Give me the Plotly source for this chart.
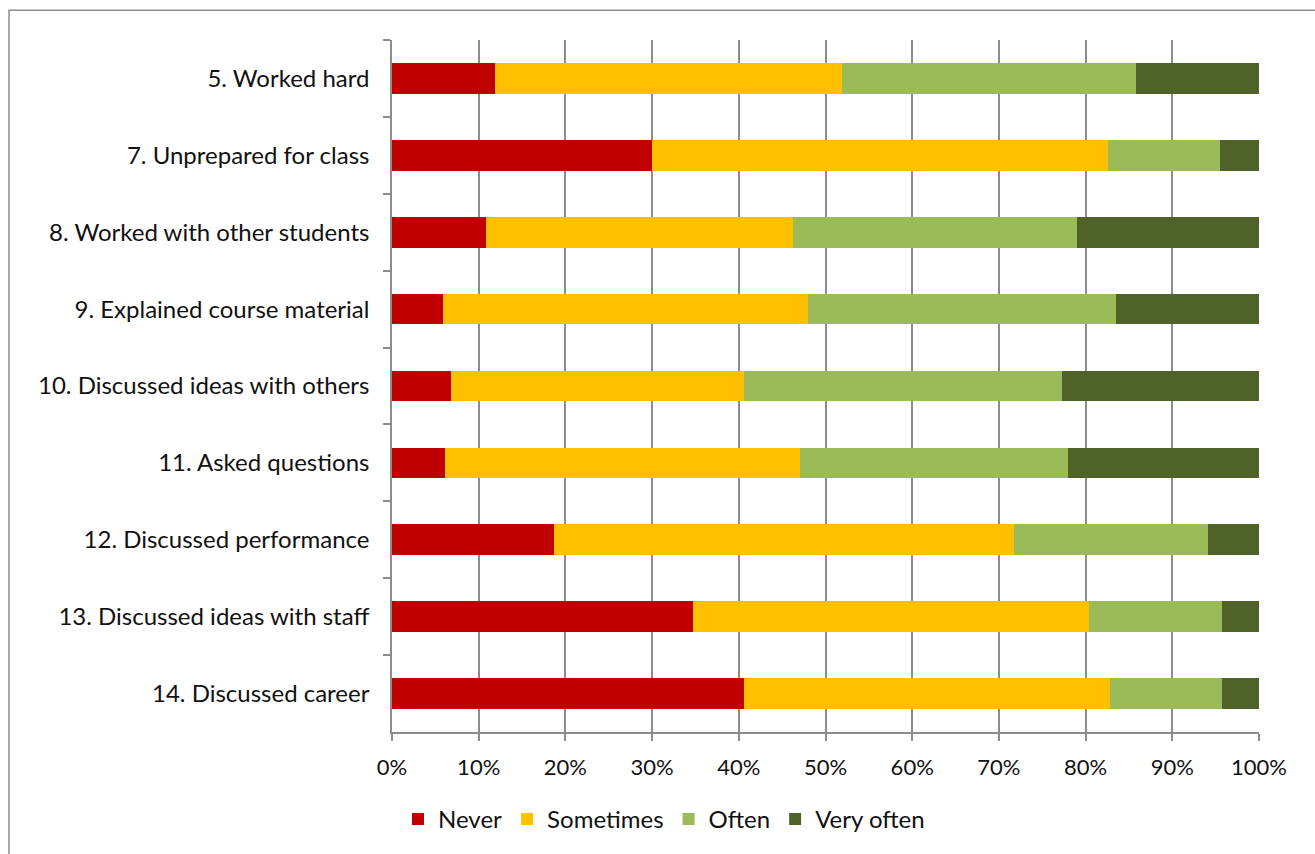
import plotly.graph_objects as go

# Survey items (top to bottom) and response shares in percent
items = [
    "5. Worked hard",
    "7. Unprepared for class",
    "8. Worked with other students",
    "9. Explained course material",
    "10. Discussed ideas with others",
    "11. Asked questions",
    "12. Discussed performance",
    "13. Discussed ideas with staff",
    "14. Discussed career",
]
never      = [11.9, 30.0, 10.8,  5.9,  6.8,  6.1, 18.7, 34.7, 40.6]
sometimes  = [40.0, 52.6, 35.5, 42.1, 33.8, 41.0, 53.0, 45.7, 42.2]
often      = [33.9, 12.9, 32.7, 35.5, 36.7, 30.9, 22.4, 15.3, 12.9]
very_often = [14.2,  4.5, 21.0, 16.5, 22.7, 22.0,  5.9,  4.3,  4.3]

series = [
    ("Never", never, "#C00000"),
    ("Sometimes", sometimes, "#FFC000"),
    ("Often", often, "#9BBB59"),
    ("Very often", very_often, "#4F6228"),
]

FONT = "Lato, 'Open Sans', sans-serif"
GRID = "#8c8c8c"

fig = go.Figure()
for name, vals, color in series:
    fig.add_trace(go.Bar(
        y=items,
        x=[v / 100 for v in vals],
        name=name,
        orientation="h",
        marker=dict(color=color, line=dict(width=0)),
        hoverinfo="name+x",
    ))

W, H = 1315, 854
ml, mr, mt, mb = 392, W - 1259, 40, H - 737
pw, ph = W - ml - mr, H - mt - mb

fig.update_layout(
    width=W, height=H,
    margin=dict(l=ml, r=mr, t=mt, b=mb),
    barmode="stack",
    bargap=0.6,
    paper_bgcolor="white",
    plot_bgcolor="white",
    font=dict(family=FONT, size=21, color="#111111"),
    legend=dict(
        orientation="h",
        x=(664 - ml) / pw, xanchor="center",
        y=(737 - 825) / ph, yanchor="middle",
        font=dict(size=24),
        itemwidth=30,
        traceorder="normal",
        tracegroupgap=0,
    ),
    xaxis=dict(
        range=[0, 1],
        dtick=0.1,
        tickformat=".0%",
        tickfont=dict(size=22),
        showgrid=True, gridcolor=GRID, gridwidth=1.5,
        showline=True, linecolor=GRID, linewidth=1.5,
        ticks="outside", ticklen=7, tickcolor=GRID, tickwidth=1.5,
        ticklabelstandoff=8,
        zeroline=False,
        fixedrange=True,
    ),
    yaxis=dict(
        autorange="reversed",
        tickfont=dict(size=24),
        showline=True, linecolor=GRID, linewidth=1.5,
        ticks="outside", ticklen=7, tickcolor=GRID, tickwidth=1.5,
        tickson="boundaries",
        ticklabelstandoff=16,
        showgrid=False,
        fixedrange=True,
    ),
    shapes=[dict(
        type="rect", xref="paper", yref="paper",
        x0=(9 - ml) / pw, x1=(W + 10 - ml) / pw,
        y0=(737 - (H + 10)) / ph, y1=(737 - 10) / ph,
        line=dict(color=GRID, width=1.5),
        fillcolor="rgba(0,0,0,0)",
        layer="below",
    )],
)

fig.write_html("out.html")
